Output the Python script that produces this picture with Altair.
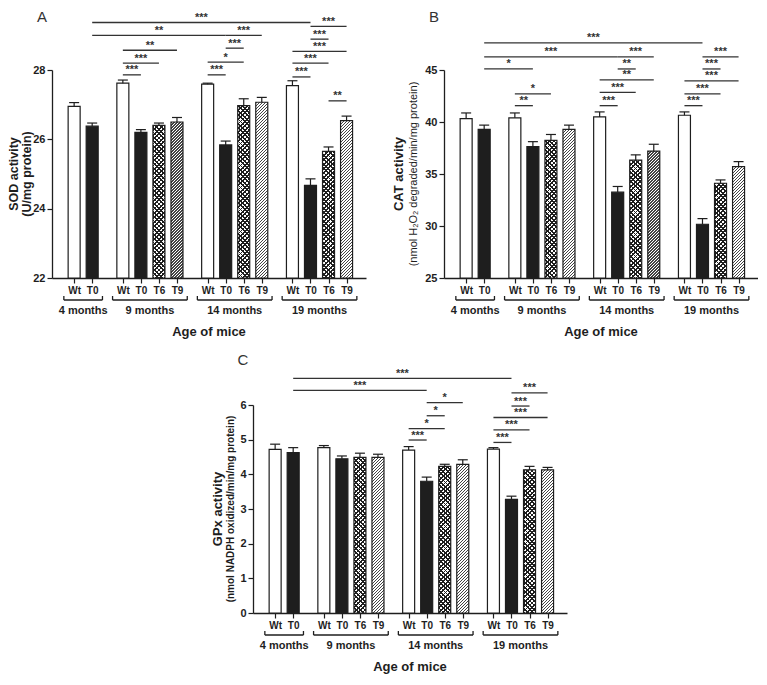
import altair as alt
import pandas as pd

# ---------------- data ----------------
months = ["4 months", "9 months", "14 months", "19 months"]
group_treatments = [["Wt", "T0"], ["Wt", "T0", "T6", "T9"],
                    ["Wt", "T0", "T6", "T9"], ["Wt", "T0", "T6", "T9"]]

# bar order: 4m Wt,T0 | 9m Wt,T0,T6,T9 | 14m Wt,T0,T6,T9 | 19m Wt,T0,T6,T9
sod_mean = [26.95, 26.38, 27.62, 26.20, 26.40, 26.50, 27.59, 25.84, 26.97, 27.07, 27.55, 24.67, 25.65, 26.54]
sod_sem = [0.11, 0.09, 0.09, 0.08, 0.07, 0.13, 0.03, 0.11, 0.20, 0.14, 0.14, 0.19, 0.13, 0.13]
cat_mean = [40.33, 39.29, 40.40, 37.64, 38.24, 39.29, 40.49, 33.25, 36.33, 37.20, 40.65, 30.17, 34.11, 35.71]
cat_sem = [0.54, 0.41, 0.47, 0.47, 0.56, 0.41, 0.48, 0.55, 0.51, 0.66, 0.32, 0.54, 0.32, 0.48]
gpx_mean = [4.72, 4.63, 4.77, 4.45, 4.49, 4.49, 4.70, 3.80, 4.23, 4.29, 4.73, 3.28, 4.13, 4.13]
gpx_sem = [0.15, 0.14, 0.06, 0.08, 0.12, 0.09, 0.10, 0.12, 0.06, 0.13, 0.04, 0.09, 0.10, 0.07]

# significance brackets: (bar a, bar b, height in data units, label)
sod_sig = [(1, 11, 29.37, "***"), (1, 7, 29.0, "**"), (2, 5, 28.57, "**"), (2, 4, 28.2, "***"),
           (2, 3, 27.86, "***"), (7, 9, 29.0, "***"), (7, 8, 28.63, "***"), (6, 8, 28.23, "*"),
           (6, 7, 27.86, "***"), (11, 13, 29.26, "***"), (11, 12, 28.89, "***"), (10, 13, 28.54, "***"),
           (10, 12, 28.2, "***"), (10, 11, 27.8, "***"), (12, 13, 27.11, "**")]
cat_sig = [(1, 11, 47.6, "***"), (1, 7, 46.27, "***"), (1, 3, 45.1, "*"), (2, 4, 42.7, "*"),
           (2, 3, 41.57, "**"), (7, 9, 46.27, "***"), (7, 8, 45.1, "**"), (6, 9, 44.05, "**"),
           (6, 8, 42.84, "***"), (6, 7, 41.57, "***"), (11, 13, 46.27, "***"), (11, 12, 45.1, "***"),
           (10, 13, 43.95, "***"), (10, 12, 42.71, "***"), (10, 11, 41.57, "***")]
gpx_sig = [(1, 11, 6.77, "***"), (1, 7, 6.42, "***"), (7, 9, 6.07, "*"), (7, 8, 5.69, "*"),
           (6, 8, 5.32, "*"), (6, 7, 4.99, "***"), (11, 13, 6.35, "***"), (11, 12, 5.97, "***"),
           (10, 13, 5.64, "***"), (10, 12, 5.28, "***"), (10, 11, 4.92, "***")]

# ---------------- layout / style ----------------
W, H, BAR = 314, 208, 12
XDOM = [-0.95, 15.9]
GAP = 0.7
FONT = "Liberation Sans"
INK = "#1e1e1e"
LINE = "#333333"

positions, bar_treat, bar_group = [], [], []
p = 0.0
for gi, trts in enumerate(group_treatments):
    for t in trts:
        positions.append(round(p, 3))
        bar_treat.append(t)
        bar_group.append(months[gi])
        p += 1
    p += GAP


def stripes(w, h, period, frac, dark, light, direction):
    L = w + h
    k = L / (w * w + h * h)
    if direction == "/":
        x1, y1, x2, y2 = 0, 0, w * k, h * k
    else:
        x1, y1, x2, y2 = 0, 1, w * k, 1 - h * k
    stops = []
    s = 0.0
    while s < L:
        a = round(s / L, 5)
        b = round(min((s + period * frac) / L, 1), 5)
        c = round(min((s + period) / L, 1), 5)
        stops += [{"offset": a, "color": dark}, {"offset": b, "color": dark},
                  {"offset": b, "color": light}, {"offset": c, "color": light}]
        s += period
    return {"gradient": "linear", "x1": x1, "y1": y1, "x2": x2, "y2": y2, "stops": stops}


one = pd.DataFrame({"k": [0]})


def panel(letter, means, sems, sigs, lo, hi, ticks, title1, title2, t1_x, t2_x,
          t1_size, t2_size, t2_weight, letter_y):
    df = pd.DataFrame({"pos": positions, "treat": bar_treat, "grp": bar_group,
                       "mean": means, "top": [m + s for m, s in zip(means, sems)]})
    xs = alt.Scale(domain=XDOM, nice=False, zero=False)
    ys = alt.Scale(domain=[lo, hi], nice=False, zero=False)
    label_expr = ("[" + ",".join(f"'{t}'" for t in bar_treat) + "][indexof(["
                  + ",".join(str(v) for v in positions) + "], datum.value)]")
    xaxis = alt.Axis(values=positions, labelExpr=label_expr, title=None, grid=False,
                     tickSize=5, tickColor=INK, tickWidth=1.2, domainColor=INK, domainWidth=1.3,
                     labelFont=FONT, labelFontSize=10, labelFontWeight="bold", labelColor=INK,
                     labelPadding=2, labelOverlap=False, labelFlush=False)
    yaxis = alt.Axis(values=ticks, title=None, grid=False, tickSize=5, tickColor=INK,
                     tickWidth=1.2, domainColor=INK, domainWidth=1.3, labelFont=FONT,
                     labelFontSize=11, labelFontWeight="bold", labelColor=INK, labelPadding=2)

    def X(f):
        return alt.X(f, type="quantitative", scale=xs, axis=xaxis)

    def Y(f):
        return alt.Y(f, type="quantitative", scale=ys, axis=yaxis)

    layers = []
    base = alt.Chart(df[df.treat.isin(["Wt", "T0"])]).mark_bar(size=BAR, strokeWidth=0).encode(
        x=X("pos"), y=Y("mean"), y2=alt.datum(lo),
        fill=alt.Fill("treat:N", scale=alt.Scale(domain=["Wt", "T0"], range=["#ffffff", INK]),
                      legend=None),
    )
    layers.append(base)

    for i, t in enumerate(bar_treat):
        if t not in ("T6", "T9"):
            continue
        h = (means[i] - lo) / (hi - lo) * H
        sub = df.iloc[[i]]
        if t == "T9":
            fills = [stripes(BAR, h, 3.0, 0.45, "#444444", "#ffffff", "/")]
        else:
            fills = [stripes(BAR, h, 4.4, 0.42, INK, "#ffffff", "/"),
                     stripes(BAR, h, 4.4, 0.42, INK, "rgba(0,0,0,0)", "\\")]
        for g in fills:
            layers.append(alt.Chart(sub).mark_bar(size=BAR, strokeWidth=0, fill=g).encode(
                x=X("pos"), y=Y("mean"), y2=alt.datum(lo)))

    layers.append(alt.Chart(df).mark_bar(size=BAR, fillOpacity=0, stroke=INK, strokeWidth=1.2).encode(
        x=X("pos"), y=Y("mean"), y2=alt.datum(lo)))

    # error bars (upper only)
    layers.append(alt.Chart(df).mark_rule(color=INK, strokeWidth=1.2).encode(
        x=X("pos"), y=Y("mean"), y2="top:Q"))
    layers.append(alt.Chart(df).mark_rule(color=INK, strokeWidth=1.2, xOffset=-5, x2Offset=5).encode(
        x=X("pos"), x2="pos:Q", y=Y("top")))

    # significance
    sdf = pd.DataFrame({"xa": [positions[a] for a, b, lv, lb in sigs],
                        "xb": [positions[b] for a, b, lv, lb in sigs],
                        "xm": [(positions[a] + positions[b]) / 2 for a, b, lv, lb in sigs],
                        "level": [lv for a, b, lv, lb in sigs],
                        "label": [lb for a, b, lv, lb in sigs]})
    layers.append(alt.Chart(sdf).mark_rule(color=LINE, strokeWidth=1.3).encode(
        x=X("xa"), x2="xb:Q", y=Y("level")))
    layers.append(alt.Chart(sdf).mark_text(font=FONT, fontSize=11, fontWeight="bold", color=LINE,
                                           baseline="alphabetic", dy=-1.5).encode(
        x=X("xm"), y=Y("level"), text="label:N"))

    # group brackets under the axis
    gx_l, gx_r, gx_c = [], [], []
    start = 0
    for trts in group_treatments:
        ps = positions[start:start + len(trts)]
        gx_l.append(ps[0] - 0.57)
        gx_r.append(ps[-1] + 0.57)
        gx_c.append((ps[0] + ps[-1]) / 2)
        start += len(trts)
    gdf = pd.DataFrame({"xl": gx_l, "xr": gx_r, "xc": gx_c, "name": months})
    edf = pd.DataFrame({"e": gx_l + gx_r})
    layers.append(alt.Chart(gdf).mark_rule(color=INK, strokeWidth=1.3).encode(
        x=X("xl"), x2="xr:Q", y=alt.value(H + 22)))
    layers.append(alt.Chart(edf).mark_rule(color=INK, strokeWidth=1.3).encode(
        x=X("e"), y=alt.value(H + 18), y2=alt.value(H + 22)))
    layers.append(alt.Chart(gdf).mark_text(font=FONT, fontSize=11, fontWeight="bold", color=INK).encode(
        x=X("xc"), y=alt.value(H + 33), text="name:N"))

    # titles
    layers.append(alt.Chart(one).mark_text(text="Age of mice", font=FONT, fontSize=13,
                                           fontWeight="bold", color=INK).encode(
        x=alt.value(W / 2), y=alt.value(H + 54)))
    layers.append(alt.Chart(one).mark_text(text=title1, font=FONT, fontSize=t1_size, fontWeight="bold",
                                           color=INK, angle=270).encode(
        x=alt.value(t1_x), y=alt.value(H / 2)))
    layers.append(alt.Chart(one).mark_text(text=title2, font=FONT, fontSize=t2_size, fontWeight=t2_weight,
                                           color=INK, angle=270).encode(
        x=alt.value(t2_x), y=alt.value(H / 2)))
    layers.append(alt.Chart(one).mark_text(text=letter, font=FONT, fontSize=15, color=LINE).encode(
        x=alt.value(-10), y=alt.value(letter_y)))

    return alt.layer(*layers).properties(width=W, height=H)


pa = panel("A", sod_mean, sod_sem, sod_sig, 22, 28, [22, 24, 26, 28],
           "SOD activity", "(U/mg protein)", -38, -25.5, 12.5, 12.5, "bold", -53)
pb = panel("B", cat_mean, cat_sem, cat_sig, 25, 45, [25, 30, 35, 40, 45],
           "CAT activity", "(nmol H\u2082O\u2082 degraded/min/mg protein)", -45, -30.5, 13, 11, "normal", -53)
pc = panel("C", gpx_mean, gpx_sem, gpx_sig, 0, 6, [0, 1, 2, 3, 4, 5, 6],
           "GPx activity", "(nmol NADPH oxidized/min/mg protein)", -35.5, -22, 13, 10, "bold", -45)

SPW = 159
spacer = alt.Chart(one).mark_rect(opacity=0).encode(
    x=alt.value(0), x2=alt.value(SPW), y=alt.value(0), y2=alt.value(1)).properties(width=SPW, height=1)

top = alt.hconcat(pa, pb, spacing=27)
bottom = alt.hconcat(spacer, pc, spacing=0)
chart = alt.vconcat(top, bottom, spacing=14).properties(
    padding={"left": 0, "top": 2, "right": 0, "bottom": 0}).configure_view(strokeWidth=0)

chart.save("out.html", embed_options={"renderer": "svg", "actions": False})
